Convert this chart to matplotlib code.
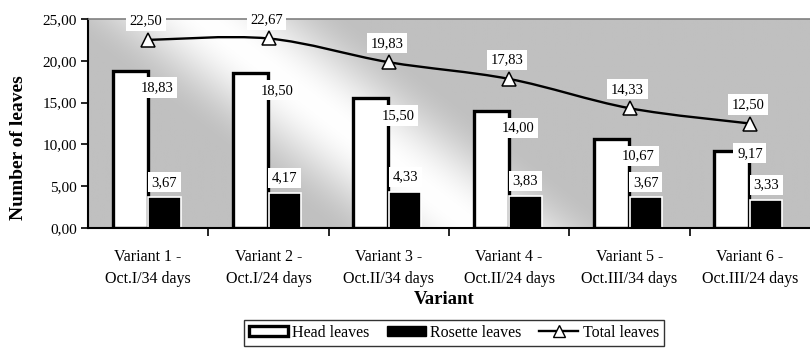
import numpy as np
import matplotlib
matplotlib.use("Agg")
import matplotlib.pyplot as plt
from matplotlib.path import Path
from matplotlib.patches import PathPatch, Patch
from matplotlib.lines import Line2D

categories = ["Variant 1 -\nOct.I/34 days", "Variant 2 -\nOct.I/24 days",
              "Variant 3 -\nOct.II/34 days", "Variant 4 -\nOct.II/24 days",
              "Variant 5 -\nOct.III/34 days", "Variant 6 -\nOct.III/24 days"]
head_leaves = [18.83, 18.50, 15.50, 14.00, 10.67, 9.17]
rosette_leaves = [3.67, 4.17, 4.33, 3.83, 3.67, 3.33]
total_leaves = [22.50, 22.67, 19.83, 17.83, 14.33, 12.50]
yticks = [0, 5, 10, 15, 20, 25]

plt.rcParams['font.family'] = ['Liberation Serif', 'DejaVu Serif']

def fmt(v):
    return f"{v:.2f}".replace(".", ",")

W, H = 810, 349
fig = plt.figure(figsize=(W / 100, H / 100), dpi=100)
L, R, T, B = 88, 810, 19, 228
ax = fig.add_axes([L / W, 1 - B / H, (R - L) / W, (B - T) / H])
n = len(categories)
x = np.arange(n)
ax.set_xlim(-0.5, n - 0.5)
ax.set_ylim(0, 25)

# metallic diagonal gradient background
px = np.linspace(L, R, 400)
py = np.linspace(T, B, 160)
PX, PY = np.meshgrid(px, py)
xc = 205 + (B - PY) * 1.29
t = (PX - xc) / 150.0
bump = np.where(np.abs(t) < 1, 0.5 * (1 + np.cos(np.pi * t)), 0.0)
gray = (192 + 63 * bump) / 255.0
img = np.dstack([gray, gray, gray])
ax.imshow(img, extent=(-0.5, n - 0.5, 25, 0), aspect='auto', zorder=0,
          interpolation='bilinear')
ax.set_ylim(0, 25)

# bars
ax.bar(x - 0.15, head_leaves, width=0.29, color='white', edgecolor='black',
       linewidth=2.4, zorder=2)
ax.bar(x + 0.135, rosette_leaves, width=0.27, color='black', edgecolor='white',
       linewidth=1.2, zorder=2)

# smoothed line (Catmull-Rom -> Bezier)
pts = np.column_stack([x, total_leaves]).astype(float)
verts = [tuple(pts[0])]
codes = [Path.MOVETO]
for i in range(n - 1):
    p0 = pts[i - 1] if i > 0 else pts[i]
    p1 = pts[i]
    p2 = pts[i + 1]
    p3 = pts[i + 2] if i + 2 < n else pts[i + 1]
    c1 = p1 + (p2 - p0) / 6.0
    c2 = p2 - (p3 - p1) / 6.0
    verts += [tuple(c1), tuple(c2), tuple(p2)]
    codes += [Path.CURVE4] * 3
ax.add_patch(PathPatch(Path(verts, codes), facecolor='none', edgecolor='black',
                       linewidth=1.7, zorder=3))
ax.plot(x, total_leaves, linestyle='none', marker='^', markersize=10,
        markerfacecolor='white', markeredgecolor='black', markeredgewidth=1.1,
        zorder=4)

box = dict(boxstyle='square,pad=0.25', facecolor='white', edgecolor='none')
for i in range(n):
    # head label sits inside the bar top unless it would crowd the rosette label
    crowded = head_leaves[i] - 2.0 < rosette_leaves[i] + 4.8
    dy = -2 if crowded else -17
    dx = 0 if crowded else 9
    ax.annotate(fmt(head_leaves[i]), (x[i], head_leaves[i]), xytext=(dx, dy),
                textcoords='offset pixels', ha='center', va='center',
                fontsize=10.5, bbox=box, zorder=5)
    ax.annotate(fmt(rosette_leaves[i]), (x[i] + 0.135, rosette_leaves[i]),
                xytext=(0, 15), textcoords='offset pixels', ha='center',
                va='center', fontsize=10.5, bbox=box, zorder=5)
    ax.annotate(fmt(total_leaves[i]), (x[i], total_leaves[i]), xytext=(-2, 19),
                textcoords='offset pixels', ha='center', va='center',
                fontsize=10.5, bbox=box, zorder=5)

# axes styling
ax.set_yticks(yticks)
ax.set_yticklabels([fmt(v) for v in yticks], fontsize=11)
ax.set_xticks(np.arange(n - 1) + 0.5)
ax.set_xticklabels([])
ax.set_xticks(x, minor=True)
ax.set_xticklabels(categories, minor=True, fontsize=11.5, linespacing=1.55)
ax.tick_params(axis='x', which='major', direction='out', length=6, width=1.2)
ax.tick_params(axis='x', which='minor', length=0, pad=15)
ax.tick_params(axis='y', direction='out', length=5, width=1.2, pad=3)
for s in ['left', 'bottom']:
    ax.spines[s].set_linewidth(1.5)
    ax.spines[s].set_color('black')
ax.spines['top'].set_color('#808080')
ax.spines['top'].set_linewidth(1.2)
ax.spines['right'].set_visible(False)
ax.set_axisbelow(False)

fig.text(19 / W, 1 - 148 / H, "Number of leaves", rotation=90, ha='center',
         va='center', fontsize=14, fontweight='bold')
fig.text(444 / W, 1 - 299 / H, "Variant", ha='center', va='center',
         fontsize=13.5, fontweight='bold')

handles = [Patch(facecolor='white', edgecolor='black', linewidth=2.4),
           Patch(facecolor='black', edgecolor='black'),
           Line2D([0], [0], color='black', linewidth=1.7, marker='^',
                  markersize=8, markerfacecolor='white', markeredgecolor='black')]
leg = fig.legend(handles, ["Head leaves", "Rosette leaves", "Total leaves"],
                 loc='upper center', bbox_to_anchor=(454 / W, 1 - 320 / H),
                 ncol=3, frameon=True, fancybox=False, fontsize=11.5,
                 handlelength=2.4, handleheight=0.6, handletextpad=0.3,
                 columnspacing=1.1, borderpad=0.3, borderaxespad=0)
leg.get_frame().set_edgecolor('black')
leg.get_frame().set_linewidth(1.0)

fig.savefig("out.png", dpi=100)
